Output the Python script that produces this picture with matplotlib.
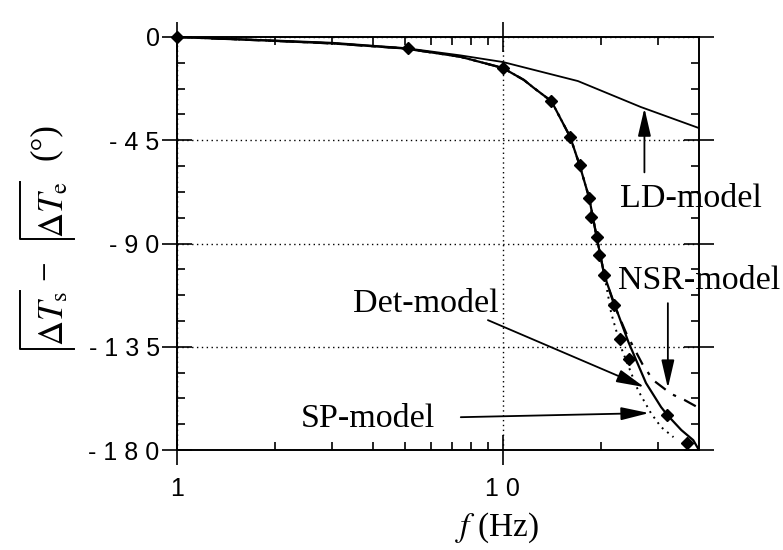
import matplotlib
matplotlib.use('Agg')
from matplotlib import pyplot as plt
from matplotlib.lines import Line2D
from matplotlib.ticker import FixedLocator, MultipleLocator, NullFormatter

plt.rcParams['mathtext.fontset'] = 'stix'

####################################
# phase difference (deg) vs frequency (Hz)

# measured points
meas_f = [1.0, 5.1, 10.0, 14.1, 16.1, 17.2, 18.4, 18.7, 19.4, 19.8, 20.5,
          21.95, 22.9, 24.4, 32.0, 36.8]
meas_deg = [0.0, -4.8, -13.5, -27.9, -43.6, -55.8, -70.2, -78.5, -87.2, -95.0,
            -103.7, -117.0, -131.6, -140.4, -164.8, -177.0]

# the three models run together up to ~20 Hz
common_f = [1.0, 2.0, 3.0, 5.0, 7.4, 10.0, 11.6, 12.4, 14.1, 16.1, 17.2, 18.4,
            19.4, 20.5]
common_deg = [0.0, -1.7, -2.8, -5.0, -8.6, -13.5, -18.7, -22.0, -28.0, -43.6,
              -55.8, -70.0, -87.0, -104.0]

det_f = common_f + [21.95, 24.3, 27.5, 30.6, 32.0, 35.3, 38.4, 39.8]
det_deg = common_deg + [-116.0, -133.0, -150.8, -161.3, -164.8, -171.3, -175.7, -179.5]

sp_f = common_f + [21.0, 21.5, 23.1, 26.0, 28.5, 30.6, 33.4]
sp_deg = common_deg + [-112.0, -120.3, -135.6, -154.0, -164.0, -170.0, -174.4]

nsr_f = common_f + [22.0, 23.9, 24.8, 26.8, 28.9, 32.9, 36.1, 40.0]
nsr_deg = common_deg + [-117.0, -129.0, -133.4, -142.5, -149.5, -155.6, -158.2, -161.7]

ld_f = [1.0, 2.0, 3.0, 5.0, 7.4, 10.0, 17.0, 26.5, 40.0]
ld_deg = [0.0, -1.5, -2.5, -4.8, -8.0, -10.9, -19.2, -30.5, -39.7]

xtick_vals = [1, 10]
xtick_labels = ['1', '1 0']
xminor_vals = [2, 3, 4, 5, 6, 7, 8, 9, 20, 30]
ytick_vals = [0, -45, -90, -135, -180]
ytick_labels = ['0', '- 4 5', '- 9 0', '- 1 3 5', '- 1 8 0']

####################################

W, H = 783, 550
fig = plt.figure(figsize=(W / 100, H / 100), dpi=100)
ax = fig.add_axes([177 / W, 1 - 450 / H, 522 / W, 413 / H])

ax.set_xscale('log')
ax.set_xlim(1, 40)
ax.set_ylim(-180, 0)

ax.xaxis.set_major_locator(FixedLocator(xtick_vals))
ax.xaxis.set_minor_locator(FixedLocator(xminor_vals))
ax.xaxis.set_minor_formatter(NullFormatter())
ax.set_xticks(xtick_vals, xtick_labels, fontfamily='Liberation Sans', fontsize=18)
ax.set_yticks(ytick_vals, ytick_labels, fontfamily='Liberation Sans', fontsize=18)
ax.yaxis.set_minor_locator(MultipleLocator(11.25))

ax.tick_params(which='major', direction='inout', length=21, width=1.2,
               top=True, right=True)
ax.tick_params(which='minor', direction='in', length=6, width=1.2,
               top=True, right=True)
ax.tick_params(axis='x', which='major', pad=9)
ax.tick_params(axis='y', which='major', pad=2)

for sp in ax.spines.values():
    sp.set_linewidth(1.4)

ax.grid(True, which='major', color='black', linestyle=(0, (1, 2.5)), linewidth=1.0)

# curves
ax.plot(ld_f, ld_deg, color='black', lw=1.3)
ax.plot(sp_f, sp_deg, color='black', lw=1.4, linestyle=(0, (1, 2.5)))
ax.plot(nsr_f, nsr_deg, color='black', lw=1.6, linestyle=(0, (6, 4, 1.5, 4)))
ax.plot(det_f, det_deg, color='black', lw=1.6)
ax.plot(meas_f, meas_deg, 'D', color='black', ms=6, clip_on=False)

# labels with arrows
arrow = dict(arrowstyle='-|>,head_length=0.95,head_width=0.22', color='black',
             lw=1.3, mutation_scale=18, shrinkA=0, shrinkB=0)
serif = dict(fontfamily='Liberation Serif', fontsize=24.5, va='baseline')

ax.text(22.9, -74.1, 'LD-model', ha='left', **serif)
ax.annotate('', xy=(27.2, -31.0), xytext=(27.2, -59.0), arrowprops=arrow)

ax.text(22.6, -109.9, 'NSR-model', ha='left', **serif)
ax.annotate('', xy=(32.1, -153.0), xytext=(32.1, -116.0), arrowprops=arrow)

ax.text(9.72, -119.9, 'Det-model', ha='right', **serif)
ax.annotate('', xy=(27.2, -152.6), xytext=(9.0, -123.4), arrowprops=arrow)

ax.text(6.2, -170.0, 'SP-model', ha='right', **serif)
ax.annotate('', xy=(28.1, -163.9), xytext=(7.43, -165.7), arrowprops=arrow)

# x label
ax.text(0.613, -0.189, r'$f$ (Hz)', transform=ax.transAxes, ha='center',
        va='center', fontfamily='Liberation Serif', fontsize=24)

# y label: phase of dT_s minus phase of dT_e, built piecewise
lab = dict(rotation=90, ha='center', va='center', fontsize=25)
fig.text(53 / W, 1 - 319 / H, r'$\Delta T_{\rm s}$', **lab)
fig.text(47 / W, 1 - 270 / H, '\u2212', fontfamily='Liberation Serif', **lab)
fig.text(53 / W, 1 - 210 / H, r'$\Delta T_{\rm e}$', **lab)
fig.text(45 / W, 1 - 142 / H, '(°)', fontfamily='Liberation Serif', **lab)
for top, bot in [(291, 349), (182, 239)]:
    fig.add_artist(Line2D([74 / W, 20 / W, 20 / W], [1 - bot / H, 1 - bot / H, 1 - top / H],
                          transform=fig.transFigure, color='black', lw=1.4))

fig.savefig('out.png', dpi=100)
